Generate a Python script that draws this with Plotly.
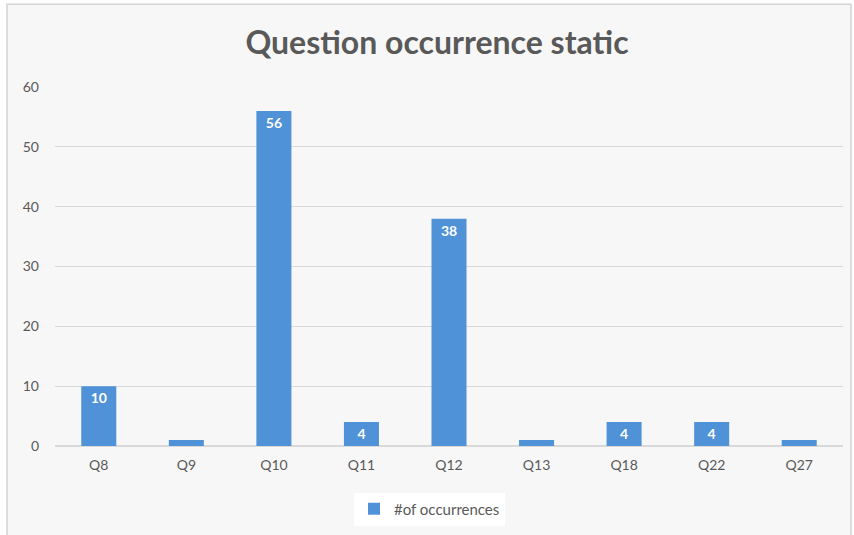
import plotly.graph_objects as go

categories = ["Q8", "Q9", "Q10", "Q11", "Q12", "Q13", "Q18", "Q22", "Q27"]
occurrences = [10, 1, 56, 4, 38, 1, 4, 4, 1]
series_name = "#of occurrences"
title_text = "Question occurrence static"

W, H = 854, 535
L, R, T, B = 55, 11, 87, 88
pw = W - L - R
ph = H - T - B

def px_x(p):
    return (p - L) / pw

def px_y(p):
    return (H - B - p) / ph

font_family = "Lato, 'Open Sans', sans-serif"
grey = "#595959"

fig = go.Figure()
fig.add_trace(go.Bar(
    x=categories,
    y=occurrences,
    name=series_name,
    marker=dict(color="#4f92d8", line=dict(width=0)),
    text=occurrences,
    textposition="inside",
    insidetextanchor="end",
    textfont=dict(color="white", size=14, family=font_family, weight="bold"),
    showlegend=True,
))

fig.add_shape(type="rect", xref="paper", yref="paper",
              x0=px_x(7), x1=px_x(851), y0=px_y(545), y1=px_y(4),
              fillcolor="#f7f7f7", line=dict(color="#d4d4d4", width=1.5),
              layer="below")

fig.update_layout(
    width=W, height=H,
    margin=dict(l=L, r=R, t=T, b=B, pad=0),
    paper_bgcolor="white",
    plot_bgcolor="rgba(0,0,0,0)",
    bargap=0.6,
    uniformtext=dict(mode="hide", minsize=12),
    title=dict(text=title_text, x=437 / W, xref="container",
               xanchor="center", y=1 - 43 / H, yref="container", yanchor="middle",
               font=dict(size=32, color=grey, family=font_family, weight="bold")),
    font=dict(family=font_family, color=grey, size=14),
    xaxis=dict(showgrid=False, showline=True, linecolor="#d9d9d9", linewidth=1,
               ticks="", tickfont=dict(size=14, color=grey), ticklabelstandoff=6),
    yaxis=dict(range=[0, 60], dtick=10, showgrid=True, gridcolor="#d9d9d9",
               gridwidth=1, zeroline=True, zerolinecolor="#d9d9d9",
               showline=False, ticks="", tickfont=dict(size=14, color=grey),
               ticklabelstandoff=15),
    legend=dict(orientation="h", x=px_x(354), xanchor="left",
                y=px_y(509), yanchor="middle", bgcolor="white",
                font=dict(size=15, color=grey), itemwidth=30),
)

fig.write_html("out.html")
